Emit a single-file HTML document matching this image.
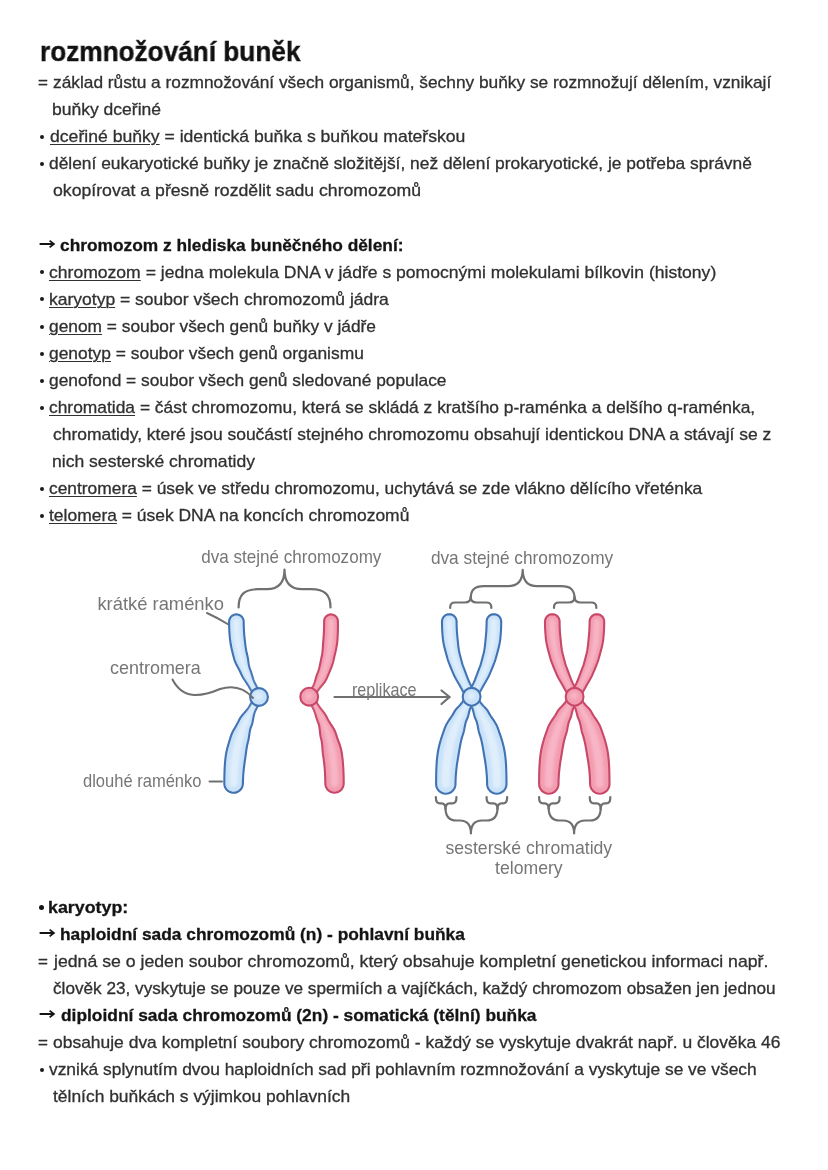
<!DOCTYPE html>
<html><head><meta charset="utf-8"><style>
html,body{margin:0;padding:0;background:#fff;}
body{width:828px;height:1170px;position:relative;overflow:hidden;font-family:"Liberation Sans",sans-serif;}
.t{position:absolute;left:0;white-space:pre;font-size:17px;line-height:27px;height:27px;color:#303030;transform-origin:0 0;-webkit-text-stroke:0.3px #303030;will-change:transform;}
.t u{text-decoration:underline;text-decoration-thickness:1.4px;text-underline-offset:1.5px;}
.b{font-weight:700;color:#141414;-webkit-text-stroke:0.3px #141414;}
.eq{left:38px;}
.dot{position:absolute;left:39.8px;width:4px;height:4px;border-radius:9px;background:#1a1a1a;}
.db{left:39.4px;width:4.8px;height:4.8px;background:#141414;}
.ar{position:absolute;left:39px;}
.title{position:absolute;white-space:pre;font-size:28px;font-weight:700;color:#111;line-height:36px;transform-origin:0 0;-webkit-text-stroke:0.4px #111;will-change:transform;}
#dg{position:absolute;left:0;top:0;}
</style></head><body>
<div id="title" class="title" style="left:39.78px;top:34.20px;transform:scaleX(0.9353)">rozmnožování buněk</div>
<div class="t eq" style="top:69.15px">=</div>
<div id="a0" class="t" style="top:69.15px;left:52.79px;transform:scaleX(1.0176)">základ růstu a rozmnožování všech organismů, šechny buňky se rozmnožují dělením, vznikají</div>
<div id="a1" class="t" style="top:96.22px;left:51.76px;transform:scaleX(1.0298)">buňky dceřiné</div>
<div class="dot" style="top:135.04px"></div>
<div id="a2" class="t" style="top:123.29px;left:49.98px;transform:scaleX(1.0355)"><u>dceřiné buňky</u> = identická buňka s buňkou mateřskou</div>
<div class="dot" style="top:162.11px"></div>
<div id="a3" class="t" style="top:150.36px;left:49.21px;transform:scaleX(1.0217)">dělení eukaryotické buňky je značně složitější, než dělení prokaryotické, je potřeba správně</div>
<div id="a4" class="t" style="top:177.43px;left:52.61px;transform:scaleX(1.0387)">okopírovat a přesně rozdělit sadu chromozomů</div>
<svg class="ar" style="top:238.92px" width="17" height="10" viewBox="0 0 17 10"><path d="M0.6 5H14.6M10.6 1.6L14.9 5L10.6 8.4" fill="none" stroke="#151515" stroke-width="1.8"/></svg>
<div id="a6" class="t b" style="top:231.57px;left:60.40px;transform:scaleX(1.0185)">chromozom z hlediska buněčného dělení:</div>
<div class="dot" style="top:270.39px"></div>
<div id="a7" class="t" style="top:258.64px;left:49.39px;transform:scaleX(1.0332)"><u>chromozom</u> = jedna molekula DNA v jádře s pomocnými molekulami bílkovin (histony)</div>
<div class="dot" style="top:297.46px"></div>
<div id="a8" class="t" style="top:285.71px;left:49.35px;transform:scaleX(1.0289)"><u>karyotyp</u> = soubor všech chromozomů jádra</div>
<div class="dot" style="top:324.53px"></div>
<div id="a9" class="t" style="top:312.78px;left:49.39px;transform:scaleX(1.0191)"><u>genom</u> = soubor všech genů buňky v jádře</div>
<div class="dot" style="top:351.60px"></div>
<div id="a10" class="t" style="top:339.85px;left:49.39px;transform:scaleX(1.0235)"><u>genotyp</u> = soubor všech genů organismu</div>
<div class="dot" style="top:378.67px"></div>
<div id="a11" class="t" style="top:366.92px;left:49.39px;transform:scaleX(1.0195)">genofond = soubor všech genů sledované populace</div>
<div class="dot" style="top:405.74px"></div>
<div id="a12" class="t" style="top:393.99px;left:49.39px;transform:scaleX(1.0231)"><u>chromatida</u> = část chromozomu, která se skládá z kratšího p-raménka a delšího q-raménka,</div>
<div id="a13" class="t" style="top:421.06px;left:52.61px;transform:scaleX(1.0277)">chromatidy, které jsou součástí stejného chromozomu obsahují identickou DNA a stávají se z</div>
<div id="a14" class="t" style="top:448.13px;left:51.58px;transform:scaleX(1.0327)">nich sesterské chromatidy</div>
<div class="dot" style="top:486.95px"></div>
<div id="a15" class="t" style="top:475.20px;left:49.39px;transform:scaleX(1.0219)"><u>centromera</u> = úsek ve středu chromozomu, uchytává se zde vlákno dělícího vřeténka</div>
<div class="dot" style="top:514.02px"></div>
<div id="a16" class="t" style="top:502.27px;left:49.39px;transform:scaleX(1.0266)"><u>telomera</u> = úsek DNA na koncích chromozomů</div>
<div class="dot db" style="top:904.90px"></div>
<div id="c0" class="t b" style="top:893.75px;left:48.33px;transform:scaleX(1.0487)">karyotyp:</div>
<svg class="ar" style="top:928.17px" width="17" height="10" viewBox="0 0 17 10"><path d="M0.6 5H14.6M10.6 1.6L14.9 5L10.6 8.4" fill="none" stroke="#151515" stroke-width="1.8"/></svg>
<div id="c1" class="t b" style="top:920.82px;left:59.59px;transform:scaleX(1.0207)">haploidní sada chromozomů (n) - pohlavní buňka</div>
<div class="t eq" style="top:947.89px">=</div>
<div id="c2" class="t" style="top:947.89px;left:53.83px;transform:scaleX(1.0399)">jedná se o jeden soubor chromozomů, který obsahuje kompletní genetickou informaci např.</div>
<div id="c3" class="t" style="top:974.96px;left:52.60px;transform:scaleX(1.0102)">člověk 23, vyskytuje se pouze ve spermiích a vajíčkách, každý chromozom obsažen jen jednou</div>
<svg class="ar" style="top:1009.38px" width="17" height="10" viewBox="0 0 17 10"><path d="M0.6 5H14.6M10.6 1.6L14.9 5L10.6 8.4" fill="none" stroke="#151515" stroke-width="1.8"/></svg>
<div id="c4" class="t b" style="top:1002.03px;left:60.61px;transform:scaleX(1.0212)">diploidní sada chromozomů (2n) - somatická (tělní) buňka</div>
<div class="t eq" style="top:1029.10px">=</div>
<div id="c5" class="t" style="top:1029.10px;left:52.79px;transform:scaleX(1.0264)">obsahuje dva kompletní soubory chromozomů - každý se vyskytuje dvakrát např. u člověka 46</div>
<div class="dot" style="top:1067.92px"></div>
<div id="c6" class="t" style="top:1056.17px;left:49.21px;transform:scaleX(1.0217)">vzniká splynutím dvou haploidních sad při pohlavním rozmnožování a vyskytuje se ve všech</div>
<div id="c7" class="t" style="top:1083.24px;left:52.61px;transform:scaleX(1.0246)">tělních buňkách s výjimkou pohlavních</div>
<svg id="dg" width="828" height="1170" viewBox="0 0 828 1170">
<defs><filter id="bl" x="-50%" y="-20%" width="200%" height="140%"><feGaussianBlur stdDeviation="1.6"/></filter></defs>
<path fill="none" stroke="#707070" stroke-width="2.2" stroke-linecap="round" stroke-linejoin="round" d="M238.6 607.5 C238.6 595 244 589.2 258 589.2 L267 589.2 C278 589.2 284.5 584 284.5 569.5 C284.5 584 291 589.2 302 589.2 L311 589.2 C325 589.2 330.5 595 330.5 607.5"/>
<path fill="none" stroke="#707070" stroke-width="2.2" stroke-linecap="round" stroke-linejoin="round" d="M470.7 599 C470.7 590 474 586.2 484 586.2 L508 586.2 C517 586.2 522.7 582 522.7 569.8 C522.7 582 528 586.2 537 586.2 L561 586.2 C571 586.2 574.6 590 574.6 599"/>
<path fill="none" stroke="#707070" stroke-width="2.2" stroke-linecap="round" stroke-linejoin="round" d="M450.2 608 L450.2 607 Q450.2 602.5 455.2 602.5 L464.7 602.5 Q470.7 602.5 470.7 597 Q470.7 602.5 476.7 602.5 L486.3 602.5 Q491.3 602.5 491.3 607 L491.3 608"/>
<path fill="none" stroke="#707070" stroke-width="2.2" stroke-linecap="round" stroke-linejoin="round" d="M554.0 608 L554.0 607 Q554.0 602.5 559.0 602.5 L568.6 602.5 Q574.6 602.5 574.6 597 Q574.6 602.5 580.6 602.5 L591.3 602.5 Q596.3 602.5 596.3 607 L596.3 608"/>
<path fill="none" stroke="#707070" stroke-width="2.2" stroke-linecap="round" stroke-linejoin="round" d="M445.5 808 Q445.5 820.5 456.5 820.5 L459.9 820.5 Q470.9 820.5 470.9 833.5 Q470.9 820.5 481.9 820.5 L486.5 820.5 Q497.5 820.5 497.5 808"/>
<path fill="none" stroke="#707070" stroke-width="2.2" stroke-linecap="round" stroke-linejoin="round" d="M435.9 797 L435.9 798 Q435.9 803.3 439.9 803.3 L441.5 803.3 Q445.5 803.3 445.5 809 Q445.5 803.3 449.5 803.3 L452.4 803.3 Q456.4 803.3 456.4 798 L456.4 797"/>
<path fill="none" stroke="#707070" stroke-width="2.2" stroke-linecap="round" stroke-linejoin="round" d="M486.6 797 L486.6 798 Q486.6 803.3 490.6 803.3 L493.5 803.3 Q497.5 803.3 497.5 809 Q497.5 803.3 501.5 803.3 L503.1 803.3 Q507.1 803.3 507.1 798 L507.1 797"/>
<path fill="none" stroke="#707070" stroke-width="2.2" stroke-linecap="round" stroke-linejoin="round" d="M548.7 808 Q548.7 820.5 559.7 820.5 L563.1 820.5 Q574.1 820.5 574.1 833.5 Q574.1 820.5 585.1 820.5 L589.7 820.5 Q600.7 820.5 600.7 808"/>
<path fill="none" stroke="#707070" stroke-width="2.2" stroke-linecap="round" stroke-linejoin="round" d="M539.1 797 L539.1 798 Q539.1 803.3 543.1 803.3 L544.7 803.3 Q548.7 803.3 548.7 809 Q548.7 803.3 552.7 803.3 L555.6 803.3 Q559.6 803.3 559.6 798 L559.6 797"/>
<path fill="none" stroke="#707070" stroke-width="2.2" stroke-linecap="round" stroke-linejoin="round" d="M589.8 797 L589.8 798 Q589.8 803.3 593.8 803.3 L596.7 803.3 Q600.7 803.3 600.7 809 Q600.7 803.3 604.7 803.3 L606.3 803.3 Q610.3 803.3 610.3 798 L610.3 797"/>
<path fill="none" stroke="#707070" stroke-width="2.0" stroke-linecap="round" d="M207 613 Q218 618 228.5 624.5"/>
<path fill="none" stroke="#707070" stroke-width="2.0" stroke-linecap="round" d="M209.5 781.5 L222 781.5"/>
<path fill="none" stroke="#707070" stroke-width="2.2" stroke-linecap="round" d="M334.5 697 L449 697 M441.5 690.5 L449.5 697 L441.5 704"/>
<path d="M261.53 695.38 L260.57 693.84 L259.67 692.28 L258.81 690.72 L257.98 689.17 L257.17 687.62 L256.37 686.10 L255.57 684.59 L254.80 683.09 L254.12 681.56 L253.53 680.00 L253.00 678.43 L252.51 676.86 L252.05 675.30 L251.59 673.75 L251.12 672.23 L250.61 670.74 L250.05 669.28 L249.55 667.81 L249.15 666.31 L248.84 664.79 L248.58 663.27 L248.36 661.74 L248.16 660.22 L247.94 658.71 L247.69 657.23 L247.38 655.76 L247.01 654.31 L246.67 652.86 L246.36 651.39 L246.09 649.92 L245.84 648.44 L245.61 646.95 L245.40 645.45 L245.21 643.95 L245.03 642.44 L244.86 640.92 L244.70 639.39 L244.54 637.85 L244.38 636.30 L244.24 634.74 L244.11 633.17 L244.00 631.58 L243.91 629.97 L243.83 628.35 L243.77 626.71 L243.73 625.06 L243.71 623.39 L243.70 621.70 L243.56 620.28 L243.14 618.91 L242.47 617.64 L241.56 616.54 L240.46 615.63 L239.19 614.96 L237.82 614.54 L236.40 614.40 L234.98 614.54 L233.61 614.96 L232.34 615.63 L231.24 616.54 L230.33 617.64 L229.66 618.91 L229.24 620.28 L229.10 621.70 L229.11 623.53 L229.14 625.35 L229.18 627.16 L229.25 628.95 L229.33 630.73 L229.43 632.49 L229.55 634.25 L229.69 635.99 L229.85 637.73 L230.03 639.45 L230.25 641.16 L230.50 642.86 L230.78 644.55 L231.10 646.22 L231.44 647.88 L231.80 649.54 L232.18 651.18 L232.58 652.82 L232.99 654.45 L233.41 656.08 L233.83 657.70 L234.27 659.31 L234.82 660.90 L235.46 662.46 L236.17 663.99 L236.94 665.50 L237.74 667.00 L238.55 668.49 L239.34 669.98 L240.09 671.49 L240.77 673.02 L241.45 674.57 L242.22 676.08 L243.07 677.57 L243.98 679.03 L244.93 680.47 L245.90 681.92 L246.87 683.36 L247.82 684.83 L248.74 686.32 L249.61 687.86 L250.50 689.40 L251.43 690.92 L252.41 692.45 L253.41 693.97 L254.43 695.50 L255.45 697.05 L256.47 698.62Z" fill="#c9e2f9" stroke="#4173b3" stroke-width="2.1" stroke-linejoin="round"/><path d="M260.06 696.32 L258.90 694.46 L257.78 692.59 L256.71 690.74 L255.68 688.89 L254.67 687.05 L253.68 685.24 L252.74 683.42 L251.87 681.59 L251.07 679.75 L250.31 677.91 L249.59 676.07 L248.89 674.25 L248.19 672.45 L247.48 670.66 L246.81 668.88 L246.21 667.07 L245.68 665.26 L245.20 663.44 L244.76 661.62 L244.32 659.80 L243.88 657.99 L243.43 656.19 L242.97 654.39 L242.55 652.58 L242.17 650.76 L241.82 648.93 L241.50 647.09 L241.21 645.23 L240.94 643.36 L240.70 641.48 L240.47 639.59 L240.26 637.68 L240.07 635.75 L239.91 633.81 L239.77 631.84 L239.66 629.86 L239.58 627.85 L239.51 625.83 L239.48 623.77 L239.47 621.70 L239.41 621.10 L239.23 620.53 L238.95 620.00 L238.57 619.53 L238.10 619.15 L237.57 618.87 L237.00 618.69 L236.40 618.63 L235.80 618.69 L235.23 618.87 L234.70 619.15 L234.23 619.53 L233.85 620.00 L233.57 620.53 L233.39 621.10 L233.33 621.70 L233.35 623.85 L233.38 625.97 L233.45 628.08 L233.54 630.16 L233.65 632.23 L233.80 634.28 L233.97 636.31 L234.17 638.32 L234.40 640.32 L234.66 642.30 L234.97 644.26 L235.31 646.21 L235.67 648.15 L236.07 650.07 L236.50 651.98 L236.94 653.88 L237.41 655.77 L237.90 657.66 L238.45 659.53 L239.08 661.37 L239.77 663.20 L240.51 665.01 L241.27 666.82 L242.05 668.62 L242.83 670.42 L243.59 672.24 L244.38 674.06 L245.24 675.86 L246.16 677.65 L247.13 679.43 L248.12 681.20 L249.14 682.98 L250.16 684.78 L251.17 686.60 L252.20 688.44 L253.28 690.27 L254.40 692.11 L255.56 693.95 L256.74 695.80 L257.94 697.68Z" fill="#e6f2fd" opacity="0.8" filter="url(#bl)"/>
<path d="M256.44 695.43 L255.22 697.35 L253.97 699.22 L252.72 701.04 L251.50 702.86 L250.36 704.68 L249.30 706.52 L248.16 708.27 L246.88 709.94 L245.52 711.54 L244.13 713.10 L242.76 714.67 L241.46 716.26 L240.29 717.90 L239.30 719.62 L238.49 721.39 L237.61 723.12 L236.68 724.82 L235.71 726.50 L234.73 728.17 L233.77 729.85 L232.86 731.54 L232.02 733.26 L231.28 735.02 L230.68 736.81 L230.14 738.62 L229.59 740.42 L229.04 742.23 L228.49 744.04 L227.96 745.85 L227.45 747.68 L226.97 749.52 L226.55 751.38 L226.18 753.26 L225.87 755.15 L225.61 757.06 L225.38 758.99 L225.18 760.93 L225.01 762.88 L224.86 764.85 L224.74 766.83 L224.64 768.83 L224.56 770.85 L224.49 772.89 L224.44 774.94 L224.39 777.02 L224.36 779.12 L224.33 781.24 L224.30 783.39 L224.46 785.21 L224.97 786.96 L225.81 788.57 L226.95 790.00 L228.34 791.17 L229.94 792.05 L231.68 792.60 L233.49 792.80 L235.31 792.64 L237.06 792.13 L238.67 791.29 L240.10 790.15 L241.27 788.76 L242.15 787.16 L242.70 785.42 L242.90 783.61 L242.94 781.60 L243.00 779.62 L243.09 777.68 L243.21 775.76 L243.34 773.88 L243.50 772.02 L243.67 770.20 L243.86 768.40 L244.07 766.62 L244.28 764.87 L244.51 763.14 L244.75 761.43 L245.00 759.74 L245.25 758.07 L245.50 756.41 L245.73 754.77 L245.95 753.12 L246.16 751.48 L246.38 749.85 L246.61 748.23 L246.88 746.61 L247.19 745.00 L247.55 743.40 L247.97 741.81 L248.37 740.22 L248.69 738.59 L248.96 736.93 L249.20 735.24 L249.45 733.53 L249.73 731.82 L250.07 730.10 L250.50 728.39 L251.05 726.71 L251.72 725.06 L252.27 723.32 L252.69 721.50 L253.04 719.61 L253.37 717.67 L253.75 715.71 L254.22 713.75 L254.83 711.83 L255.64 709.97 L256.60 708.16 L257.53 706.29 L258.46 704.38 L259.42 702.44 L260.44 700.50 L261.56 698.57Z" fill="#c9e2f9" stroke="#4173b3" stroke-width="2.1" stroke-linejoin="round"/><path d="M257.93 696.34 L256.49 698.65 L255.08 700.90 L253.70 703.12 L252.38 705.32 L251.14 707.52 L249.88 709.66 L248.57 711.73 L247.25 713.76 L245.95 715.77 L244.71 717.78 L243.58 719.82 L242.59 721.89 L241.67 723.97 L240.72 726.01 L239.78 728.04 L238.85 730.06 L237.95 732.09 L237.12 734.13 L236.36 736.18 L235.69 738.26 L235.09 740.35 L234.50 742.45 L233.93 744.55 L233.39 746.66 L232.87 748.78 L232.40 750.93 L231.98 753.09 L231.60 755.27 L231.28 757.47 L231.00 759.70 L230.75 761.95 L230.53 764.22 L230.34 766.51 L230.18 768.84 L230.05 771.19 L229.94 773.57 L229.85 775.99 L229.78 778.44 L229.73 780.93 L229.69 783.45 L229.76 784.22 L229.97 784.95 L230.33 785.63 L230.81 786.23 L231.39 786.72 L232.06 787.09 L232.79 787.32 L233.55 787.41 L234.32 787.34 L235.05 787.13 L235.73 786.77 L236.33 786.29 L236.82 785.71 L237.19 785.04 L237.42 784.31 L237.51 783.55 L237.55 781.09 L237.62 778.68 L237.72 776.31 L237.85 773.98 L238.00 771.68 L238.18 769.43 L238.39 767.20 L238.61 765.02 L238.86 762.86 L239.13 760.72 L239.43 758.62 L239.74 756.53 L240.06 754.47 L240.39 752.42 L240.73 750.38 L241.10 748.36 L241.49 746.34 L241.93 744.34 L242.42 742.34 L242.96 740.36 L243.51 738.38 L244.03 736.38 L244.55 734.35 L245.09 732.32 L245.66 730.28 L246.30 728.23 L247.02 726.19 L247.83 724.16 L248.66 722.10 L249.43 719.98 L250.18 717.81 L250.95 715.61 L251.79 713.39 L252.73 711.17 L253.80 708.97 L254.99 706.78 L256.18 704.54 L257.41 702.27 L258.70 699.97 L260.07 697.66Z" fill="#e6f2fd" opacity="0.8" filter="url(#bl)"/>
<circle cx="259.0" cy="697.0" r="8.9" fill="#c9e2f9" stroke="#4173b3" stroke-width="2.1"/><circle cx="258.5" cy="696.0" r="4" fill="#e6f2fd" opacity="0.7" filter="url(#bl)"/>
<path d="M311.45 698.69 L312.41 697.60 L313.37 696.49 L314.31 695.37 L315.24 694.22 L316.15 693.05 L317.03 691.86 L317.88 690.63 L318.72 689.39 L319.64 688.18 L320.62 686.99 L321.62 685.80 L322.63 684.59 L323.62 683.34 L324.58 682.05 L325.46 680.71 L326.26 679.31 L326.94 677.84 L327.58 676.34 L328.24 674.83 L328.90 673.31 L329.56 671.77 L330.21 670.21 L330.84 668.62 L331.45 667.01 L332.03 665.38 L332.58 663.71 L333.09 662.02 L333.54 660.30 L333.94 658.55 L334.34 656.78 L334.75 654.99 L335.18 653.19 L335.59 651.37 L336.00 649.52 L336.37 647.65 L336.71 645.75 L337.01 643.83 L337.24 641.88 L337.42 639.91 L337.56 637.91 L337.68 635.90 L337.77 633.86 L337.85 631.80 L337.89 629.72 L337.92 627.62 L337.93 625.50 L337.92 623.36 L337.90 621.20 L337.75 619.85 L337.33 618.57 L336.68 617.38 L335.81 616.35 L334.75 615.51 L333.55 614.89 L332.25 614.51 L330.90 614.40 L329.55 614.55 L328.27 614.97 L327.08 615.62 L326.05 616.49 L325.21 617.55 L324.59 618.75 L324.21 620.05 L324.10 621.40 L324.12 623.43 L324.11 625.43 L324.08 627.41 L324.02 629.37 L323.95 631.30 L323.85 633.20 L323.74 635.08 L323.61 636.94 L323.47 638.77 L323.31 640.58 L323.18 642.37 L323.06 644.15 L322.95 645.90 L322.83 647.63 L322.70 649.35 L322.54 651.04 L322.35 652.71 L322.11 654.35 L321.81 655.96 L321.48 657.55 L321.16 659.12 L320.84 660.67 L320.54 662.21 L320.22 663.74 L319.90 665.24 L319.56 666.73 L319.19 668.20 L318.79 669.64 L318.36 671.06 L317.88 672.44 L317.35 673.79 L316.82 675.13 L316.37 676.49 L315.96 677.87 L315.59 679.25 L315.21 680.64 L314.82 682.01 L314.37 683.36 L313.86 684.67 L313.25 685.92 L312.54 687.10 L311.79 688.24 L311.03 689.37 L310.26 690.48 L309.47 691.58 L308.66 692.65 L307.82 693.70 L306.95 694.71Z" fill="#f39cb0" stroke="#c74868" stroke-width="2.1" stroke-linejoin="round"/><path d="M310.14 697.54 L311.26 696.25 L312.36 694.93 L313.44 693.59 L314.49 692.22 L315.51 690.81 L316.49 689.36 L317.47 687.90 L318.47 686.43 L319.48 684.95 L320.48 683.44 L321.45 681.89 L322.38 680.30 L323.25 678.66 L324.04 676.95 L324.77 675.21 L325.49 673.44 L326.20 671.64 L326.89 669.81 L327.56 667.96 L328.20 666.06 L328.80 664.14 L329.36 662.17 L329.88 660.17 L330.35 658.14 L330.79 656.07 L331.23 653.98 L331.65 651.85 L332.05 649.70 L332.42 647.51 L332.75 645.29 L333.04 643.03 L333.27 640.74 L333.46 638.41 L333.62 636.06 L333.74 633.67 L333.83 631.25 L333.89 628.80 L333.92 626.32 L333.92 623.80 L333.90 621.26 L333.83 620.69 L333.66 620.15 L333.39 619.65 L333.02 619.22 L332.57 618.87 L332.07 618.61 L331.52 618.45 L330.96 618.40 L330.39 618.47 L329.85 618.64 L329.35 618.91 L328.92 619.28 L328.57 619.73 L328.31 620.23 L328.15 620.78 L328.10 621.34 L328.12 623.82 L328.11 626.26 L328.07 628.67 L327.99 631.05 L327.89 633.39 L327.76 635.70 L327.60 637.98 L327.42 640.22 L327.22 642.43 L327.02 644.61 L326.80 646.76 L326.57 648.88 L326.30 650.97 L326.00 653.03 L325.66 655.05 L325.26 657.04 L324.83 658.99 L324.40 660.92 L323.95 662.82 L323.48 664.69 L322.99 666.53 L322.47 668.34 L321.92 670.12 L321.33 671.86 L320.70 673.57 L320.02 675.24 L319.33 676.89 L318.68 678.53 L318.03 680.17 L317.36 681.78 L316.67 683.37 L315.93 684.93 L315.12 686.44 L314.24 687.89 L313.31 689.29 L312.35 690.66 L311.37 692.01 L310.37 693.33 L309.33 694.62 L308.26 695.86Z" fill="#f8bccb" opacity="0.8" filter="url(#bl)"/>
<path d="M306.75 698.43 L307.82 699.98 L308.88 701.53 L309.90 703.09 L310.90 704.65 L311.87 706.21 L312.82 707.78 L313.65 709.40 L314.35 711.08 L314.95 712.80 L315.49 714.53 L316.00 716.26 L316.51 717.98 L317.06 719.66 L317.68 721.30 L318.35 722.91 L318.87 724.58 L319.26 726.30 L319.54 728.05 L319.75 729.81 L319.93 731.58 L320.11 733.33 L320.33 735.07 L320.62 736.78 L321.04 738.45 L321.46 740.13 L321.78 741.84 L322.02 743.58 L322.21 745.33 L322.35 747.10 L322.47 748.88 L322.60 750.66 L322.76 752.45 L322.96 754.24 L323.22 756.04 L323.49 757.85 L323.74 759.69 L323.97 761.54 L324.19 763.42 L324.39 765.31 L324.57 767.24 L324.74 769.18 L324.88 771.15 L325.01 773.14 L325.11 775.16 L325.19 777.21 L325.25 779.28 L325.29 781.38 L325.30 783.50 L325.48 785.29 L326.00 787.02 L326.85 788.61 L327.99 790.01 L329.39 791.15 L330.98 792.00 L332.71 792.52 L334.50 792.70 L336.29 792.52 L338.02 792.00 L339.61 791.15 L341.01 790.01 L342.15 788.61 L343.00 787.02 L343.52 785.29 L343.70 783.50 L343.69 781.21 L343.67 778.94 L343.63 776.70 L343.57 774.47 L343.50 772.27 L343.40 770.08 L343.29 767.91 L343.15 765.77 L342.99 763.64 L342.81 761.52 L342.60 759.43 L342.36 757.35 L342.10 755.29 L341.81 753.25 L341.48 751.22 L341.04 749.23 L340.51 747.27 L339.90 745.33 L339.25 743.43 L338.58 741.54 L337.89 739.67 L337.23 737.82 L336.59 735.96 L336.01 734.10 L335.38 732.26 L334.58 730.48 L333.66 728.76 L332.65 727.07 L331.59 725.43 L330.52 723.80 L329.47 722.18 L328.47 720.54 L327.56 718.88 L326.76 717.17 L325.85 715.51 L324.81 713.91 L323.70 712.36 L322.53 710.84 L321.34 709.33 L320.16 707.82 L319.03 706.28 L317.98 704.70 L316.99 703.07 L315.97 701.44 L314.93 699.82 L313.87 698.20 L312.77 696.59 L311.65 694.97Z" fill="#f39cb0" stroke="#c74868" stroke-width="2.1" stroke-linejoin="round"/><path d="M308.17 697.43 L309.47 699.31 L310.74 701.20 L311.97 703.09 L313.16 704.98 L314.31 706.88 L315.38 708.82 L316.35 710.79 L317.24 712.79 L318.09 714.80 L318.92 716.80 L319.74 718.79 L320.60 720.75 L321.41 722.74 L322.11 724.76 L322.72 726.81 L323.27 728.89 L323.79 730.97 L324.29 733.05 L324.81 735.12 L325.38 737.19 L325.93 739.27 L326.41 741.38 L326.83 743.51 L327.19 745.67 L327.53 747.85 L327.85 750.04 L328.16 752.26 L328.50 754.48 L328.83 756.73 L329.14 759.01 L329.42 761.31 L329.67 763.65 L329.89 766.01 L330.09 768.41 L330.25 770.84 L330.39 773.30 L330.50 775.80 L330.57 778.33 L330.62 780.90 L330.64 783.50 L330.71 784.25 L330.93 784.98 L331.29 785.65 L331.77 786.23 L332.35 786.71 L333.02 787.07 L333.75 787.29 L334.50 787.36 L335.25 787.29 L335.98 787.07 L336.65 786.71 L337.23 786.23 L337.71 785.65 L338.07 784.98 L338.29 784.25 L338.36 783.50 L338.35 780.81 L338.31 778.16 L338.25 775.54 L338.15 772.95 L338.03 770.39 L337.88 767.86 L337.70 765.36 L337.49 762.89 L337.24 760.45 L336.96 758.03 L336.65 755.64 L336.30 753.27 L335.89 750.94 L335.40 748.63 L334.85 746.36 L334.25 744.12 L333.62 741.90 L332.97 739.71 L332.31 737.53 L331.67 735.36 L330.97 733.22 L330.17 731.12 L329.27 729.06 L328.32 727.03 L327.33 725.03 L326.34 723.04 L325.36 721.05 L324.43 719.04 L323.47 717.04 L322.41 715.09 L321.27 713.17 L320.09 711.28 L318.88 709.39 L317.67 707.50 L316.48 705.59 L315.31 703.66 L314.09 701.73 L312.84 699.81 L311.56 697.89 L310.23 695.97Z" fill="#f8bccb" opacity="0.8" filter="url(#bl)"/>
<circle cx="309.2" cy="696.7" r="8.9" fill="#f39cb0" stroke="#c74868" stroke-width="2.1"/><circle cx="308.7" cy="695.7" r="4" fill="#f8bccb" opacity="0.7" filter="url(#bl)"/>
<path d="M475.05 694.68 L474.16 693.01 L473.39 691.30 L472.69 689.58 L472.00 687.89 L471.28 686.25 L470.49 684.67 L469.71 683.12 L468.99 681.56 L468.32 680.01 L467.69 678.45 L467.09 676.91 L466.52 675.38 L465.97 673.86 L465.42 672.36 L464.88 670.88 L464.32 669.42 L463.75 667.98 L463.21 666.54 L462.72 665.10 L462.27 663.66 L461.86 662.22 L461.47 660.78 L461.09 659.34 L460.73 657.91 L460.37 656.48 L460.00 655.06 L459.62 653.65 L459.30 652.22 L459.01 650.79 L458.76 649.35 L458.54 647.89 L458.35 646.44 L458.18 644.97 L458.03 643.50 L457.88 642.02 L457.74 640.53 L457.60 639.03 L457.44 637.53 L457.28 636.01 L457.14 634.47 L457.01 632.92 L456.90 631.35 L456.81 629.76 L456.73 628.15 L456.68 626.52 L456.63 624.87 L456.61 623.20 L456.60 621.50 L456.46 620.08 L456.04 618.71 L455.37 617.44 L454.46 616.34 L453.36 615.43 L452.09 614.76 L450.72 614.34 L449.30 614.20 L447.88 614.34 L446.51 614.76 L445.24 615.43 L444.14 616.34 L443.23 617.44 L442.56 618.71 L442.14 620.08 L442.00 621.50 L442.01 623.34 L442.04 625.17 L442.08 626.97 L442.15 628.76 L442.23 630.53 L442.33 632.29 L442.46 634.03 L442.60 635.75 L442.76 637.46 L442.94 639.16 L443.17 640.84 L443.44 642.51 L443.75 644.16 L444.10 645.79 L444.48 647.41 L444.88 649.02 L445.30 650.62 L445.73 652.21 L446.16 653.79 L446.60 655.37 L447.04 656.95 L447.47 658.52 L447.95 660.09 L448.47 661.64 L449.03 663.18 L449.63 664.72 L450.25 666.24 L450.88 667.77 L451.52 669.30 L452.16 670.83 L452.80 672.37 L453.45 673.92 L454.16 675.46 L454.91 676.98 L455.71 678.50 L456.55 680.01 L457.41 681.52 L458.29 683.04 L459.18 684.57 L460.07 686.11 L460.96 687.68 L461.83 689.27 L462.74 690.87 L463.77 692.42 L464.87 693.95 L466.00 695.50 L467.11 697.07 L468.15 698.72Z" fill="#c9e2f9" stroke="#4173b3" stroke-width="2.1" stroke-linejoin="round"/><path d="M473.05 695.85 L471.94 693.85 L470.91 691.85 L469.93 689.86 L468.97 687.91 L467.98 686.01 L467.02 684.13 L466.11 682.26 L465.24 680.40 L464.42 678.55 L463.63 676.72 L462.87 674.90 L462.13 673.10 L461.41 671.32 L460.69 669.55 L460.01 667.79 L459.37 666.03 L458.77 664.27 L458.21 662.51 L457.68 660.75 L457.17 658.99 L456.68 657.24 L456.21 655.48 L455.75 653.72 L455.35 651.96 L454.98 650.18 L454.65 648.39 L454.35 646.58 L454.07 644.77 L453.82 642.94 L453.59 641.10 L453.38 639.25 L453.17 637.37 L452.98 635.48 L452.82 633.56 L452.68 631.62 L452.57 629.66 L452.48 627.66 L452.42 625.64 L452.38 623.59 L452.37 621.50 L452.31 620.90 L452.13 620.33 L451.85 619.80 L451.47 619.33 L451.00 618.95 L450.47 618.67 L449.90 618.49 L449.30 618.43 L448.70 618.49 L448.13 618.67 L447.60 618.95 L447.13 619.33 L446.75 619.80 L446.47 620.33 L446.29 620.90 L446.23 621.50 L446.25 623.66 L446.29 625.79 L446.35 627.89 L446.44 629.96 L446.56 632.02 L446.70 634.04 L446.87 636.05 L447.07 638.03 L447.31 639.99 L447.59 641.93 L447.91 643.86 L448.26 645.76 L448.65 647.65 L449.07 649.52 L449.51 651.38 L449.97 653.23 L450.44 655.07 L450.94 656.91 L451.46 658.74 L452.03 660.56 L452.64 662.37 L453.28 664.17 L453.95 665.98 L454.65 667.78 L455.37 669.59 L456.10 671.40 L456.86 673.22 L457.68 675.04 L458.54 676.85 L459.44 678.67 L460.38 680.49 L461.34 682.32 L462.33 684.17 L463.33 686.04 L464.34 687.94 L465.40 689.84 L466.54 691.74 L467.74 693.64 L468.95 695.57 L470.15 697.55Z" fill="#e6f2fd" opacity="0.8" filter="url(#bl)"/>
<path d="M475.05 698.72 L476.09 697.07 L477.20 695.50 L478.33 693.95 L479.43 692.42 L480.46 690.87 L481.37 689.27 L482.24 687.68 L483.13 686.11 L484.02 684.57 L484.91 683.04 L485.79 681.52 L486.65 680.01 L487.49 678.50 L488.29 676.98 L489.04 675.46 L489.75 673.92 L490.40 672.37 L491.04 670.83 L491.68 669.30 L492.32 667.77 L492.95 666.24 L493.57 664.72 L494.17 663.18 L494.73 661.64 L495.25 660.09 L495.73 658.52 L496.16 656.95 L496.60 655.37 L497.04 653.79 L497.47 652.21 L497.90 650.62 L498.32 649.02 L498.72 647.41 L499.10 645.79 L499.45 644.16 L499.76 642.51 L500.03 640.84 L500.26 639.16 L500.44 637.46 L500.60 635.75 L500.74 634.03 L500.87 632.29 L500.97 630.53 L501.05 628.76 L501.12 626.97 L501.16 625.17 L501.19 623.34 L501.20 621.50 L501.06 620.08 L500.64 618.71 L499.97 617.44 L499.06 616.34 L497.96 615.43 L496.69 614.76 L495.32 614.34 L493.90 614.20 L492.48 614.34 L491.11 614.76 L489.84 615.43 L488.74 616.34 L487.83 617.44 L487.16 618.71 L486.74 620.08 L486.60 621.50 L486.59 623.20 L486.57 624.87 L486.52 626.52 L486.47 628.15 L486.39 629.76 L486.30 631.35 L486.19 632.92 L486.06 634.47 L485.92 636.01 L485.76 637.53 L485.60 639.03 L485.46 640.53 L485.32 642.02 L485.17 643.50 L485.02 644.97 L484.85 646.44 L484.66 647.89 L484.44 649.35 L484.19 650.79 L483.90 652.22 L483.58 653.65 L483.20 655.06 L482.83 656.48 L482.47 657.91 L482.11 659.34 L481.73 660.78 L481.34 662.22 L480.93 663.66 L480.48 665.10 L479.99 666.54 L479.45 667.98 L478.88 669.42 L478.32 670.88 L477.78 672.36 L477.23 673.86 L476.68 675.38 L476.11 676.91 L475.51 678.45 L474.88 680.01 L474.21 681.56 L473.49 683.12 L472.71 684.67 L471.92 686.25 L471.20 687.89 L470.51 689.58 L469.81 691.30 L469.04 693.01 L468.15 694.68Z" fill="#c9e2f9" stroke="#4173b3" stroke-width="2.1" stroke-linejoin="round"/><path d="M473.05 697.55 L474.25 695.57 L475.46 693.64 L476.66 691.74 L477.80 689.84 L478.86 687.94 L479.87 686.04 L480.87 684.17 L481.86 682.32 L482.82 680.49 L483.76 678.67 L484.66 676.85 L485.52 675.04 L486.34 673.22 L487.10 671.40 L487.83 669.59 L488.55 667.78 L489.25 665.98 L489.92 664.17 L490.56 662.37 L491.17 660.56 L491.74 658.74 L492.26 656.91 L492.76 655.07 L493.23 653.23 L493.69 651.38 L494.13 649.52 L494.55 647.65 L494.94 645.76 L495.29 643.86 L495.61 641.93 L495.89 639.99 L496.13 638.03 L496.33 636.05 L496.50 634.04 L496.64 632.02 L496.76 629.96 L496.85 627.89 L496.91 625.79 L496.95 623.66 L496.97 621.50 L496.91 620.90 L496.73 620.33 L496.45 619.80 L496.07 619.33 L495.60 618.95 L495.07 618.67 L494.50 618.49 L493.90 618.43 L493.30 618.49 L492.73 618.67 L492.20 618.95 L491.73 619.33 L491.35 619.80 L491.07 620.33 L490.89 620.90 L490.83 621.50 L490.82 623.59 L490.78 625.64 L490.72 627.66 L490.63 629.66 L490.52 631.62 L490.38 633.56 L490.22 635.48 L490.03 637.37 L489.82 639.25 L489.61 641.10 L489.38 642.94 L489.13 644.77 L488.85 646.58 L488.55 648.39 L488.22 650.18 L487.85 651.96 L487.45 653.72 L486.99 655.48 L486.52 657.24 L486.03 658.99 L485.52 660.75 L484.99 662.51 L484.43 664.27 L483.83 666.03 L483.19 667.79 L482.51 669.55 L481.79 671.32 L481.07 673.10 L480.33 674.90 L479.57 676.72 L478.78 678.55 L477.96 680.40 L477.09 682.26 L476.18 684.13 L475.22 686.01 L474.23 687.91 L473.27 689.86 L472.29 691.85 L471.26 693.85 L470.15 695.85Z" fill="#e6f2fd" opacity="0.8" filter="url(#bl)"/>
<path d="M468.34 694.56 L467.20 696.10 L465.95 697.56 L464.69 699.00 L463.49 700.47 L462.45 702.03 L461.35 703.54 L460.11 704.97 L458.79 706.36 L457.46 707.74 L456.18 709.16 L455.03 710.65 L454.07 712.25 L453.19 713.88 L452.21 715.47 L451.18 717.04 L450.11 718.61 L449.04 720.19 L447.99 721.79 L446.99 723.43 L446.08 725.11 L445.28 726.85 L444.61 728.65 L443.96 730.47 L443.32 732.30 L442.67 734.14 L442.04 736.00 L441.42 737.88 L440.82 739.79 L440.24 741.72 L439.69 743.67 L439.19 745.66 L438.72 747.67 L438.30 749.71 L437.94 751.79 L437.61 753.89 L437.33 756.02 L437.09 758.18 L436.88 760.37 L436.71 762.59 L436.56 764.84 L436.44 767.11 L436.34 769.42 L436.27 771.76 L436.21 774.13 L436.17 776.53 L436.14 778.97 L436.12 781.44 L436.10 783.95 L436.28 785.84 L436.82 787.67 L437.71 789.35 L438.91 790.82 L440.37 792.04 L442.04 792.94 L443.86 793.50 L445.75 793.70 L447.64 793.52 L449.47 792.98 L451.15 792.09 L452.62 790.89 L453.84 789.43 L454.74 787.76 L455.30 785.94 L455.50 784.05 L455.53 781.73 L455.60 779.45 L455.71 777.21 L455.85 775.02 L456.03 772.87 L456.23 770.76 L456.45 768.69 L456.69 766.66 L456.96 764.67 L457.24 762.71 L457.53 760.79 L457.83 758.91 L458.14 757.05 L458.45 755.22 L458.76 753.42 L459.06 751.64 L459.35 749.88 L459.65 748.15 L459.96 746.43 L460.28 744.73 L460.61 743.05 L460.97 741.39 L461.36 739.75 L461.78 738.13 L462.25 736.53 L462.75 734.95 L463.28 733.38 L463.71 731.79 L464.08 730.17 L464.40 728.53 L464.72 726.87 L465.05 725.21 L465.42 723.56 L465.88 721.94 L466.43 720.35 L467.11 718.81 L467.77 717.25 L468.27 715.60 L468.69 713.88 L469.09 712.13 L469.54 710.38 L470.11 708.69 L470.87 707.07 L471.73 705.51 L472.47 703.85 L473.17 702.14 L473.94 700.46 L474.86 698.84Z" fill="#c9e2f9" stroke="#4173b3" stroke-width="2.1" stroke-linejoin="round"/><path d="M470.23 695.80 L468.94 697.67 L467.60 699.49 L466.30 701.32 L465.09 703.18 L463.89 705.04 L462.63 706.84 L461.35 708.63 L460.09 710.42 L458.91 712.25 L457.85 714.15 L456.86 716.08 L455.83 717.98 L454.79 719.89 L453.75 721.80 L452.75 723.74 L451.79 725.71 L450.91 727.72 L450.11 729.78 L449.39 731.88 L448.67 733.99 L447.98 736.13 L447.31 738.29 L446.67 740.48 L446.06 742.71 L445.48 744.97 L444.95 747.27 L444.46 749.60 L444.02 751.98 L443.63 754.40 L443.28 756.86 L442.97 759.36 L442.70 761.90 L442.47 764.49 L442.27 767.13 L442.11 769.81 L441.98 772.54 L441.88 775.32 L441.80 778.15 L441.75 781.04 L441.73 783.98 L441.80 784.77 L442.03 785.54 L442.40 786.25 L442.90 786.87 L443.52 787.38 L444.22 787.76 L444.98 787.99 L445.78 788.07 L446.57 788.00 L447.34 787.77 L448.05 787.40 L448.67 786.90 L449.18 786.28 L449.56 785.58 L449.79 784.82 L449.87 784.02 L449.91 781.17 L449.99 778.39 L450.11 775.66 L450.27 772.99 L450.46 770.37 L450.69 767.81 L450.95 765.30 L451.23 762.84 L451.55 760.43 L451.89 758.07 L452.25 755.75 L452.63 753.47 L453.02 751.23 L453.44 749.02 L453.87 746.85 L454.32 744.71 L454.80 742.60 L455.30 740.52 L455.85 738.46 L456.43 736.44 L457.05 734.44 L457.72 732.47 L458.39 730.51 L459.02 728.54 L459.64 726.57 L460.28 724.60 L460.94 722.65 L461.66 720.70 L462.45 718.79 L463.33 716.91 L464.22 715.02 L465.03 713.08 L465.83 711.11 L466.66 709.14 L467.57 707.20 L468.61 705.30 L469.69 703.41 L470.73 701.47 L471.80 699.52 L472.97 697.60Z" fill="#e6f2fd" opacity="0.8" filter="url(#bl)"/>
<path d="M467.74 698.84 L468.66 700.46 L469.43 702.14 L470.13 703.85 L470.87 705.51 L471.73 707.07 L472.49 708.69 L473.06 710.38 L473.51 712.13 L473.91 713.88 L474.33 715.60 L474.83 717.25 L475.49 718.81 L476.17 720.35 L476.72 721.94 L477.18 723.56 L477.55 725.21 L477.88 726.87 L478.20 728.53 L478.52 730.17 L478.89 731.79 L479.32 733.38 L479.85 734.95 L480.35 736.53 L480.82 738.13 L481.24 739.75 L481.63 741.39 L481.99 743.05 L482.32 744.73 L482.64 746.43 L482.95 748.15 L483.25 749.88 L483.54 751.64 L483.84 753.42 L484.15 755.22 L484.46 757.05 L484.77 758.91 L485.07 760.79 L485.36 762.71 L485.64 764.67 L485.91 766.66 L486.15 768.69 L486.37 770.76 L486.57 772.87 L486.75 775.02 L486.89 777.21 L487.00 779.45 L487.07 781.73 L487.10 784.05 L487.30 785.94 L487.86 787.76 L488.76 789.43 L489.98 790.89 L491.45 792.09 L493.13 792.98 L494.96 793.52 L496.85 793.70 L498.74 793.50 L500.56 792.94 L502.23 792.04 L503.69 790.82 L504.89 789.35 L505.78 787.67 L506.32 785.84 L506.50 783.95 L506.48 781.44 L506.46 778.97 L506.43 776.53 L506.39 774.13 L506.33 771.76 L506.26 769.42 L506.16 767.11 L506.04 764.84 L505.89 762.59 L505.72 760.37 L505.51 758.18 L505.27 756.02 L504.99 753.89 L504.66 751.79 L504.30 749.71 L503.88 747.67 L503.41 745.66 L502.91 743.67 L502.36 741.72 L501.78 739.79 L501.18 737.88 L500.56 736.00 L499.93 734.14 L499.28 732.30 L498.64 730.47 L497.99 728.65 L497.32 726.85 L496.52 725.11 L495.61 723.43 L494.61 721.79 L493.56 720.19 L492.49 718.61 L491.42 717.04 L490.39 715.47 L489.41 713.88 L488.53 712.25 L487.57 710.65 L486.42 709.16 L485.14 707.74 L483.81 706.36 L482.49 704.97 L481.25 703.54 L480.15 702.03 L479.11 700.47 L477.91 699.00 L476.65 697.56 L475.40 696.10 L474.26 694.56Z" fill="#c9e2f9" stroke="#4173b3" stroke-width="2.1" stroke-linejoin="round"/><path d="M469.63 697.60 L470.80 699.52 L471.87 701.47 L472.91 703.41 L473.99 705.30 L475.03 707.20 L475.94 709.14 L476.77 711.11 L477.57 713.08 L478.38 715.02 L479.27 716.91 L480.15 718.79 L480.94 720.70 L481.66 722.65 L482.32 724.60 L482.96 726.57 L483.58 728.54 L484.21 730.51 L484.88 732.47 L485.55 734.44 L486.17 736.44 L486.75 738.46 L487.30 740.52 L487.80 742.60 L488.28 744.71 L488.73 746.85 L489.16 749.02 L489.58 751.23 L489.97 753.47 L490.35 755.75 L490.71 758.07 L491.05 760.43 L491.37 762.84 L491.65 765.30 L491.91 767.81 L492.14 770.37 L492.33 772.99 L492.49 775.66 L492.61 778.39 L492.69 781.17 L492.73 784.02 L492.81 784.82 L493.04 785.58 L493.42 786.28 L493.93 786.90 L494.55 787.40 L495.26 787.77 L496.03 788.00 L496.82 788.07 L497.62 787.99 L498.38 787.76 L499.08 787.38 L499.70 786.87 L500.20 786.25 L500.57 785.54 L500.80 784.77 L500.87 783.98 L500.85 781.04 L500.80 778.15 L500.72 775.32 L500.62 772.54 L500.49 769.81 L500.33 767.13 L500.13 764.49 L499.90 761.90 L499.63 759.36 L499.32 756.86 L498.97 754.40 L498.58 751.98 L498.14 749.60 L497.65 747.27 L497.12 744.97 L496.54 742.71 L495.93 740.48 L495.29 738.29 L494.62 736.13 L493.93 733.99 L493.21 731.88 L492.49 729.78 L491.69 727.72 L490.81 725.71 L489.85 723.74 L488.85 721.80 L487.81 719.89 L486.77 717.98 L485.74 716.08 L484.75 714.15 L483.69 712.25 L482.51 710.42 L481.25 708.63 L479.97 706.84 L478.71 705.04 L477.51 703.18 L476.30 701.32 L475.00 699.49 L473.66 697.67 L472.37 695.80Z" fill="#e6f2fd" opacity="0.8" filter="url(#bl)"/>
<circle cx="471.6" cy="696.8" r="8.9" fill="#c9e2f9" stroke="#4173b3" stroke-width="2.1"/><circle cx="471.1" cy="695.8" r="4" fill="#e6f2fd" opacity="0.7" filter="url(#bl)"/>
<path d="M578.05 694.68 L577.16 693.01 L576.39 691.30 L575.69 689.58 L575.00 687.89 L574.28 686.25 L573.49 684.67 L572.71 683.12 L571.99 681.56 L571.32 680.01 L570.69 678.45 L570.09 676.91 L569.52 675.38 L568.97 673.86 L568.42 672.36 L567.88 670.88 L567.32 669.42 L566.75 667.98 L566.21 666.54 L565.72 665.10 L565.27 663.66 L564.86 662.22 L564.47 660.78 L564.09 659.34 L563.73 657.91 L563.37 656.48 L563.00 655.06 L562.62 653.65 L562.30 652.22 L562.01 650.79 L561.76 649.35 L561.54 647.89 L561.35 646.44 L561.18 644.97 L561.03 643.50 L560.88 642.02 L560.74 640.53 L560.60 639.03 L560.44 637.53 L560.28 636.01 L560.14 634.47 L560.01 632.92 L559.90 631.35 L559.81 629.76 L559.73 628.15 L559.68 626.52 L559.63 624.87 L559.61 623.20 L559.60 621.50 L559.46 620.08 L559.04 618.71 L558.37 617.44 L557.46 616.34 L556.36 615.43 L555.09 614.76 L553.72 614.34 L552.30 614.20 L550.88 614.34 L549.51 614.76 L548.24 615.43 L547.14 616.34 L546.23 617.44 L545.56 618.71 L545.14 620.08 L545.00 621.50 L545.01 623.34 L545.04 625.17 L545.08 626.97 L545.15 628.76 L545.23 630.53 L545.33 632.29 L545.46 634.03 L545.60 635.75 L545.76 637.46 L545.94 639.16 L546.17 640.84 L546.44 642.51 L546.75 644.16 L547.10 645.79 L547.48 647.41 L547.88 649.02 L548.30 650.62 L548.73 652.21 L549.16 653.79 L549.60 655.37 L550.04 656.95 L550.47 658.52 L550.95 660.09 L551.47 661.64 L552.03 663.18 L552.63 664.72 L553.25 666.24 L553.88 667.77 L554.52 669.30 L555.16 670.83 L555.80 672.37 L556.45 673.92 L557.16 675.46 L557.91 676.98 L558.71 678.50 L559.55 680.01 L560.41 681.52 L561.29 683.04 L562.18 684.57 L563.07 686.11 L563.96 687.68 L564.83 689.27 L565.74 690.87 L566.77 692.42 L567.87 693.95 L569.00 695.50 L570.11 697.07 L571.15 698.72Z" fill="#f39cb0" stroke="#c74868" stroke-width="2.1" stroke-linejoin="round"/><path d="M576.05 695.85 L574.94 693.85 L573.91 691.85 L572.93 689.86 L571.97 687.91 L570.98 686.01 L570.02 684.13 L569.11 682.26 L568.24 680.40 L567.42 678.55 L566.63 676.72 L565.87 674.90 L565.13 673.10 L564.41 671.32 L563.69 669.55 L563.01 667.79 L562.37 666.03 L561.77 664.27 L561.21 662.51 L560.68 660.75 L560.17 658.99 L559.68 657.24 L559.21 655.48 L558.75 653.72 L558.35 651.96 L557.98 650.18 L557.65 648.39 L557.35 646.58 L557.07 644.77 L556.82 642.94 L556.59 641.10 L556.38 639.25 L556.17 637.37 L555.98 635.48 L555.82 633.56 L555.68 631.62 L555.57 629.66 L555.48 627.66 L555.42 625.64 L555.38 623.59 L555.37 621.50 L555.31 620.90 L555.13 620.33 L554.85 619.80 L554.47 619.33 L554.00 618.95 L553.47 618.67 L552.90 618.49 L552.30 618.43 L551.70 618.49 L551.13 618.67 L550.60 618.95 L550.13 619.33 L549.75 619.80 L549.47 620.33 L549.29 620.90 L549.23 621.50 L549.25 623.66 L549.29 625.79 L549.35 627.89 L549.44 629.96 L549.56 632.02 L549.70 634.04 L549.87 636.05 L550.07 638.03 L550.31 639.99 L550.59 641.93 L550.91 643.86 L551.26 645.76 L551.65 647.65 L552.07 649.52 L552.51 651.38 L552.97 653.23 L553.44 655.07 L553.94 656.91 L554.46 658.74 L555.03 660.56 L555.64 662.37 L556.28 664.17 L556.95 665.98 L557.65 667.78 L558.37 669.59 L559.10 671.40 L559.86 673.22 L560.68 675.04 L561.54 676.85 L562.44 678.67 L563.38 680.49 L564.34 682.32 L565.33 684.17 L566.33 686.04 L567.34 687.94 L568.40 689.84 L569.54 691.74 L570.74 693.64 L571.95 695.57 L573.15 697.55Z" fill="#f8bccb" opacity="0.8" filter="url(#bl)"/>
<path d="M578.05 698.72 L579.09 697.07 L580.20 695.50 L581.33 693.95 L582.43 692.42 L583.46 690.87 L584.37 689.27 L585.24 687.68 L586.13 686.11 L587.02 684.57 L587.91 683.04 L588.79 681.52 L589.65 680.01 L590.49 678.50 L591.29 676.98 L592.04 675.46 L592.75 673.92 L593.40 672.37 L594.04 670.83 L594.68 669.30 L595.32 667.77 L595.95 666.24 L596.57 664.72 L597.17 663.18 L597.73 661.64 L598.25 660.09 L598.73 658.52 L599.16 656.95 L599.60 655.37 L600.04 653.79 L600.47 652.21 L600.90 650.62 L601.32 649.02 L601.72 647.41 L602.10 645.79 L602.45 644.16 L602.76 642.51 L603.03 640.84 L603.26 639.16 L603.44 637.46 L603.60 635.75 L603.74 634.03 L603.87 632.29 L603.97 630.53 L604.05 628.76 L604.12 626.97 L604.16 625.17 L604.19 623.34 L604.20 621.50 L604.06 620.08 L603.64 618.71 L602.97 617.44 L602.06 616.34 L600.96 615.43 L599.69 614.76 L598.32 614.34 L596.90 614.20 L595.48 614.34 L594.11 614.76 L592.84 615.43 L591.74 616.34 L590.83 617.44 L590.16 618.71 L589.74 620.08 L589.60 621.50 L589.59 623.20 L589.57 624.87 L589.52 626.52 L589.47 628.15 L589.39 629.76 L589.30 631.35 L589.19 632.92 L589.06 634.47 L588.92 636.01 L588.76 637.53 L588.60 639.03 L588.46 640.53 L588.32 642.02 L588.17 643.50 L588.02 644.97 L587.85 646.44 L587.66 647.89 L587.44 649.35 L587.19 650.79 L586.90 652.22 L586.58 653.65 L586.20 655.06 L585.83 656.48 L585.47 657.91 L585.11 659.34 L584.73 660.78 L584.34 662.22 L583.93 663.66 L583.48 665.10 L582.99 666.54 L582.45 667.98 L581.88 669.42 L581.32 670.88 L580.78 672.36 L580.23 673.86 L579.68 675.38 L579.11 676.91 L578.51 678.45 L577.88 680.01 L577.21 681.56 L576.49 683.12 L575.71 684.67 L574.92 686.25 L574.20 687.89 L573.51 689.58 L572.81 691.30 L572.04 693.01 L571.15 694.68Z" fill="#f39cb0" stroke="#c74868" stroke-width="2.1" stroke-linejoin="round"/><path d="M576.05 697.55 L577.25 695.57 L578.46 693.64 L579.66 691.74 L580.80 689.84 L581.86 687.94 L582.87 686.04 L583.87 684.17 L584.86 682.32 L585.82 680.49 L586.76 678.67 L587.66 676.85 L588.52 675.04 L589.34 673.22 L590.10 671.40 L590.83 669.59 L591.55 667.78 L592.25 665.98 L592.92 664.17 L593.56 662.37 L594.17 660.56 L594.74 658.74 L595.26 656.91 L595.76 655.07 L596.23 653.23 L596.69 651.38 L597.13 649.52 L597.55 647.65 L597.94 645.76 L598.29 643.86 L598.61 641.93 L598.89 639.99 L599.13 638.03 L599.33 636.05 L599.50 634.04 L599.64 632.02 L599.76 629.96 L599.85 627.89 L599.91 625.79 L599.95 623.66 L599.97 621.50 L599.91 620.90 L599.73 620.33 L599.45 619.80 L599.07 619.33 L598.60 618.95 L598.07 618.67 L597.50 618.49 L596.90 618.43 L596.30 618.49 L595.73 618.67 L595.20 618.95 L594.73 619.33 L594.35 619.80 L594.07 620.33 L593.89 620.90 L593.83 621.50 L593.82 623.59 L593.78 625.64 L593.72 627.66 L593.63 629.66 L593.52 631.62 L593.38 633.56 L593.22 635.48 L593.03 637.37 L592.82 639.25 L592.61 641.10 L592.38 642.94 L592.13 644.77 L591.85 646.58 L591.55 648.39 L591.22 650.18 L590.85 651.96 L590.45 653.72 L589.99 655.48 L589.52 657.24 L589.03 658.99 L588.52 660.75 L587.99 662.51 L587.43 664.27 L586.83 666.03 L586.19 667.79 L585.51 669.55 L584.79 671.32 L584.07 673.10 L583.33 674.90 L582.57 676.72 L581.78 678.55 L580.96 680.40 L580.09 682.26 L579.18 684.13 L578.22 686.01 L577.23 687.91 L576.27 689.86 L575.29 691.85 L574.26 693.85 L573.15 695.85Z" fill="#f8bccb" opacity="0.8" filter="url(#bl)"/>
<path d="M571.34 694.56 L570.20 696.10 L568.95 697.56 L567.69 699.00 L566.49 700.47 L565.45 702.03 L564.35 703.54 L563.11 704.97 L561.79 706.36 L560.46 707.74 L559.18 709.16 L558.03 710.65 L557.07 712.25 L556.19 713.88 L555.21 715.47 L554.18 717.04 L553.11 718.61 L552.04 720.19 L550.99 721.79 L549.99 723.43 L549.08 725.11 L548.28 726.85 L547.61 728.65 L546.96 730.47 L546.32 732.30 L545.67 734.14 L545.04 736.00 L544.42 737.88 L543.82 739.79 L543.24 741.72 L542.69 743.67 L542.19 745.66 L541.72 747.67 L541.30 749.71 L540.94 751.79 L540.61 753.89 L540.33 756.02 L540.09 758.18 L539.88 760.37 L539.71 762.59 L539.56 764.84 L539.44 767.11 L539.34 769.42 L539.27 771.76 L539.21 774.13 L539.17 776.53 L539.14 778.97 L539.12 781.44 L539.10 783.95 L539.28 785.84 L539.82 787.67 L540.71 789.35 L541.91 790.82 L543.37 792.04 L545.04 792.94 L546.86 793.50 L548.75 793.70 L550.64 793.52 L552.47 792.98 L554.15 792.09 L555.62 790.89 L556.84 789.43 L557.74 787.76 L558.30 785.94 L558.50 784.05 L558.53 781.73 L558.60 779.45 L558.71 777.21 L558.85 775.02 L559.03 772.87 L559.23 770.76 L559.45 768.69 L559.69 766.66 L559.96 764.67 L560.24 762.71 L560.53 760.79 L560.83 758.91 L561.14 757.05 L561.45 755.22 L561.76 753.42 L562.06 751.64 L562.35 749.88 L562.65 748.15 L562.96 746.43 L563.28 744.73 L563.61 743.05 L563.97 741.39 L564.36 739.75 L564.78 738.13 L565.25 736.53 L565.75 734.95 L566.28 733.38 L566.71 731.79 L567.08 730.17 L567.40 728.53 L567.72 726.87 L568.05 725.21 L568.42 723.56 L568.88 721.94 L569.43 720.35 L570.11 718.81 L570.77 717.25 L571.27 715.60 L571.69 713.88 L572.09 712.13 L572.54 710.38 L573.11 708.69 L573.87 707.07 L574.73 705.51 L575.47 703.85 L576.17 702.14 L576.94 700.46 L577.86 698.84Z" fill="#f39cb0" stroke="#c74868" stroke-width="2.1" stroke-linejoin="round"/><path d="M573.23 695.80 L571.94 697.67 L570.60 699.49 L569.30 701.32 L568.09 703.18 L566.89 705.04 L565.63 706.84 L564.35 708.63 L563.09 710.42 L561.91 712.25 L560.85 714.15 L559.86 716.08 L558.83 717.98 L557.79 719.89 L556.75 721.80 L555.75 723.74 L554.79 725.71 L553.91 727.72 L553.11 729.78 L552.39 731.88 L551.67 733.99 L550.98 736.13 L550.31 738.29 L549.67 740.48 L549.06 742.71 L548.48 744.97 L547.95 747.27 L547.46 749.60 L547.02 751.98 L546.63 754.40 L546.28 756.86 L545.97 759.36 L545.70 761.90 L545.47 764.49 L545.27 767.13 L545.11 769.81 L544.98 772.54 L544.88 775.32 L544.80 778.15 L544.75 781.04 L544.73 783.98 L544.80 784.77 L545.03 785.54 L545.40 786.25 L545.90 786.87 L546.52 787.38 L547.22 787.76 L547.98 787.99 L548.78 788.07 L549.57 788.00 L550.34 787.77 L551.05 787.40 L551.67 786.90 L552.18 786.28 L552.56 785.58 L552.79 784.82 L552.87 784.02 L552.91 781.17 L552.99 778.39 L553.11 775.66 L553.27 772.99 L553.46 770.37 L553.69 767.81 L553.95 765.30 L554.23 762.84 L554.55 760.43 L554.89 758.07 L555.25 755.75 L555.63 753.47 L556.02 751.23 L556.44 749.02 L556.87 746.85 L557.32 744.71 L557.80 742.60 L558.30 740.52 L558.85 738.46 L559.43 736.44 L560.05 734.44 L560.72 732.47 L561.39 730.51 L562.02 728.54 L562.64 726.57 L563.28 724.60 L563.94 722.65 L564.66 720.70 L565.45 718.79 L566.33 716.91 L567.22 715.02 L568.03 713.08 L568.83 711.11 L569.66 709.14 L570.57 707.20 L571.61 705.30 L572.69 703.41 L573.73 701.47 L574.80 699.52 L575.97 697.60Z" fill="#f8bccb" opacity="0.8" filter="url(#bl)"/>
<path d="M570.74 698.84 L571.66 700.46 L572.43 702.14 L573.13 703.85 L573.87 705.51 L574.73 707.07 L575.49 708.69 L576.06 710.38 L576.51 712.13 L576.91 713.88 L577.33 715.60 L577.83 717.25 L578.49 718.81 L579.17 720.35 L579.72 721.94 L580.18 723.56 L580.55 725.21 L580.88 726.87 L581.20 728.53 L581.52 730.17 L581.89 731.79 L582.32 733.38 L582.85 734.95 L583.35 736.53 L583.82 738.13 L584.24 739.75 L584.63 741.39 L584.99 743.05 L585.32 744.73 L585.64 746.43 L585.95 748.15 L586.25 749.88 L586.54 751.64 L586.84 753.42 L587.15 755.22 L587.46 757.05 L587.77 758.91 L588.07 760.79 L588.36 762.71 L588.64 764.67 L588.91 766.66 L589.15 768.69 L589.37 770.76 L589.57 772.87 L589.75 775.02 L589.89 777.21 L590.00 779.45 L590.07 781.73 L590.10 784.05 L590.30 785.94 L590.86 787.76 L591.76 789.43 L592.98 790.89 L594.45 792.09 L596.13 792.98 L597.96 793.52 L599.85 793.70 L601.74 793.50 L603.56 792.94 L605.23 792.04 L606.69 790.82 L607.89 789.35 L608.78 787.67 L609.32 785.84 L609.50 783.95 L609.48 781.44 L609.46 778.97 L609.43 776.53 L609.39 774.13 L609.33 771.76 L609.26 769.42 L609.16 767.11 L609.04 764.84 L608.89 762.59 L608.72 760.37 L608.51 758.18 L608.27 756.02 L607.99 753.89 L607.66 751.79 L607.30 749.71 L606.88 747.67 L606.41 745.66 L605.91 743.67 L605.36 741.72 L604.78 739.79 L604.18 737.88 L603.56 736.00 L602.93 734.14 L602.28 732.30 L601.64 730.47 L600.99 728.65 L600.32 726.85 L599.52 725.11 L598.61 723.43 L597.61 721.79 L596.56 720.19 L595.49 718.61 L594.42 717.04 L593.39 715.47 L592.41 713.88 L591.53 712.25 L590.57 710.65 L589.42 709.16 L588.14 707.74 L586.81 706.36 L585.49 704.97 L584.25 703.54 L583.15 702.03 L582.11 700.47 L580.91 699.00 L579.65 697.56 L578.40 696.10 L577.26 694.56Z" fill="#f39cb0" stroke="#c74868" stroke-width="2.1" stroke-linejoin="round"/><path d="M572.63 697.60 L573.80 699.52 L574.87 701.47 L575.91 703.41 L576.99 705.30 L578.03 707.20 L578.94 709.14 L579.77 711.11 L580.57 713.08 L581.38 715.02 L582.27 716.91 L583.15 718.79 L583.94 720.70 L584.66 722.65 L585.32 724.60 L585.96 726.57 L586.58 728.54 L587.21 730.51 L587.88 732.47 L588.55 734.44 L589.17 736.44 L589.75 738.46 L590.30 740.52 L590.80 742.60 L591.28 744.71 L591.73 746.85 L592.16 749.02 L592.58 751.23 L592.97 753.47 L593.35 755.75 L593.71 758.07 L594.05 760.43 L594.37 762.84 L594.65 765.30 L594.91 767.81 L595.14 770.37 L595.33 772.99 L595.49 775.66 L595.61 778.39 L595.69 781.17 L595.73 784.02 L595.81 784.82 L596.04 785.58 L596.42 786.28 L596.93 786.90 L597.55 787.40 L598.26 787.77 L599.03 788.00 L599.82 788.07 L600.62 787.99 L601.38 787.76 L602.08 787.38 L602.70 786.87 L603.20 786.25 L603.57 785.54 L603.80 784.77 L603.87 783.98 L603.85 781.04 L603.80 778.15 L603.72 775.32 L603.62 772.54 L603.49 769.81 L603.33 767.13 L603.13 764.49 L602.90 761.90 L602.63 759.36 L602.32 756.86 L601.97 754.40 L601.58 751.98 L601.14 749.60 L600.65 747.27 L600.12 744.97 L599.54 742.71 L598.93 740.48 L598.29 738.29 L597.62 736.13 L596.93 733.99 L596.21 731.88 L595.49 729.78 L594.69 727.72 L593.81 725.71 L592.85 723.74 L591.85 721.80 L590.81 719.89 L589.77 717.98 L588.74 716.08 L587.75 714.15 L586.69 712.25 L585.51 710.42 L584.25 708.63 L582.97 706.84 L581.71 705.04 L580.51 703.18 L579.30 701.32 L578.00 699.49 L576.66 697.67 L575.37 695.80Z" fill="#f8bccb" opacity="0.8" filter="url(#bl)"/>
<circle cx="574.6" cy="696.8" r="8.9" fill="#f39cb0" stroke="#c74868" stroke-width="2.1"/><circle cx="574.1" cy="695.8" r="4" fill="#f8bccb" opacity="0.7" filter="url(#bl)"/>
<path fill="none" stroke="#707070" stroke-width="2.0" stroke-linecap="round" d="M172.5 679.5 Q180 694 194 695 Q205 695.5 220 689 Q240 683 253 698"/>
<g font-family="Liberation Sans, sans-serif">
<text transform="matrix(1 0 0 1.180 0 -101.38)" x="201.2" y="563.2" font-size="15" textLength="180.2" lengthAdjust="spacingAndGlyphs" fill="#767676">dva stejné chromozomy</text>
<text transform="matrix(1 0 0 1.180 0 -101.52)" x="430.9" y="564.0" font-size="15" textLength="182.3" lengthAdjust="spacingAndGlyphs" fill="#767676">dva stejné chromozomy</text>
<text transform="matrix(1 0 0 1.180 0 -109.80)" x="97.4" y="610.0" font-size="15" textLength="126.6" lengthAdjust="spacingAndGlyphs" fill="#767676">krátké raménko</text>
<text transform="matrix(1 0 0 1.180 0 -121.27)" x="110.0" y="673.7" font-size="15" textLength="90.8" lengthAdjust="spacingAndGlyphs" fill="#767676">centromera</text>
<text transform="matrix(1 0 0 1.180 0 -141.61)" x="83.0" y="786.7" font-size="15" textLength="118.5" lengthAdjust="spacingAndGlyphs" fill="#767676">dlouhé raménko</text>
<text transform="matrix(1 0 0 1.180 0 -125.23)" x="351.9" y="695.7" font-size="15" textLength="64.7" lengthAdjust="spacingAndGlyphs" fill="#767676">replikace</text>
<text transform="matrix(1 0 0 1.180 0 -153.72)" x="445.5" y="854.0" font-size="15" textLength="166.7" lengthAdjust="spacingAndGlyphs" fill="#767676">sesterské chromatidy</text>
<text transform="matrix(1 0 0 1.180 0 -157.41)" x="495.0" y="874.5" font-size="15" textLength="67.7" lengthAdjust="spacingAndGlyphs" fill="#767676">telomery</text>
</g>
</svg>
</body></html>
